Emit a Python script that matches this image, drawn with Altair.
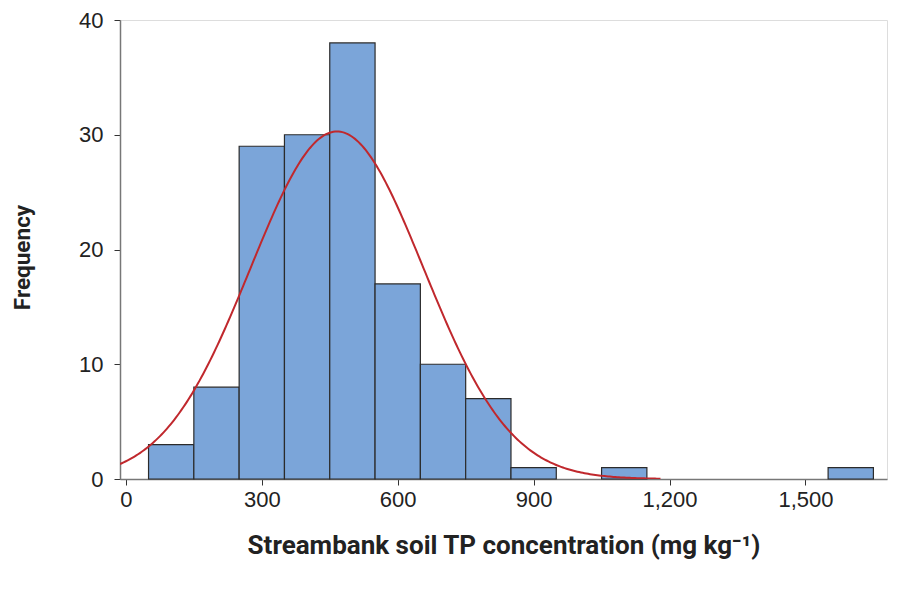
import altair as alt
import pandas as pd
import numpy as np

# Histogram bins (mg kg-1) and frequencies
bin_start = [50, 150, 250, 350, 450, 550, 650, 750, 850, 1050, 1550]
bin_end = [150, 250, 350, 450, 550, 650, 750, 850, 950, 1150, 1650]
frequency = [3, 8, 29, 30, 38, 17, 10, 7, 1, 1, 1]

# Fitted normal curve parameters
fit_mean = 466
fit_sd = 191
bin_width = 100
curve_start = -13
curve_end = 1180

x_ticks = [0, 300, 600, 900, 1200, 1500]
y_ticks = [0, 10, 20, 30, 40]

bars = pd.DataFrame({"start": bin_start, "end": bin_end, "freq": frequency})

n_total = sum(frequency)
cx = np.linspace(curve_start, curve_end, 300)
cy = n_total * bin_width / (fit_sd * np.sqrt(2 * np.pi)) * np.exp(-0.5 * ((cx - fit_mean) / fit_sd) ** 2)
curve = pd.DataFrame({"x": cx, "y": cy})

xscale = alt.Scale(domain=[-13, 1680], nice=False, zero=False)
yscale = alt.Scale(domain=[0, 40], nice=False)

label_font = "Liberation Sans"
title_font = "Roboto"

xaxis = alt.Axis(
    values=x_ticks, format=",d", grid=False, title="Streambank soil TP concentration (mg kg⁻¹)",
    labelFont=label_font, labelFontSize=22, labelColor="#222", labelPadding=4,
    tickSize=6, tickColor="#333", domainColor="#777", domainWidth=1.5,
    titleFont=title_font, titleFontSize=26, titleFontWeight="bold", titleColor="#222",
    titleBaseline="alphabetic", titleY=74, labelFlush=False,
)
yaxis = alt.Axis(
    values=y_ticks, grid=False, title="Frequency",
    labelFont=label_font, labelFontSize=22, labelColor="#222", labelPadding=11,
    tickSize=6, tickColor="#333", domainColor="#777", domainWidth=1.5,
    titleFont=title_font, titleFontSize=22.5, titleFontWeight="bold", titleColor="#222",
    titleAngle=270, titleBaseline="middle", titleAlign="center", titleX=-98, titleY=237,
)

hist = alt.Chart(bars).mark_rect(color="#7BA5D9", stroke="#2b2b2b", strokeWidth=1.2).encode(
    x=alt.X("start:Q", scale=xscale, axis=xaxis),
    x2="end:Q",
    y=alt.Y("freq:Q", scale=yscale, axis=yaxis),
    y2=alt.datum(0),
)

line = alt.Chart(curve).mark_line(color="#C0282D", strokeWidth=2, clip=True).encode(
    x=alt.X("x:Q", scale=xscale),
    y=alt.Y("y:Q", scale=yscale),
)

chart = alt.layer(hist, line).properties(
    width=767, height=459,
    autosize=alt.AutoSizeParams(type="none"),
    padding={"left": 112, "top": 12, "right": 2, "bottom": 100},
).configure_view(stroke="#777", strokeWidth=1.5).configure(background="white")

chart.save("out.html", embed_options={"renderer": "svg", "actions": False})
